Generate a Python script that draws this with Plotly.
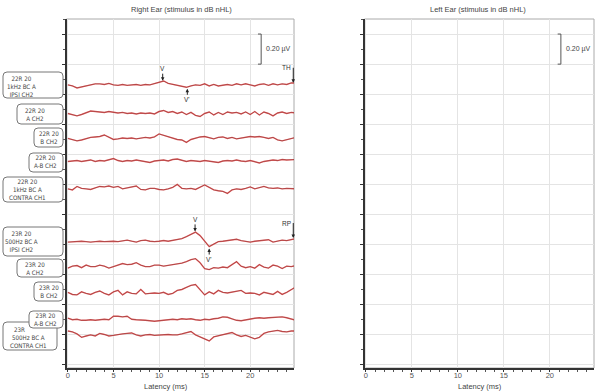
import plotly.graph_objects as go

W, H = 597, 391

# ---------------- data ----------------
latency_ms = [i * 0.5 for i in range(51)]  # sample times 0 .. 25 ms

# waveform amplitudes (nV)
r22_ipsi_1k = [0, -7, -20, -13, -7, 0, 7, 7, 3, 10,
               0, -3, 3, -3, 0, 3, -3, 3, 0, 7,
               16, 26, 10, 3, 0, -7, -16, -7, 0, -3,
               7, -7, 3, -7, 0, 3, -3, 7, 0, 7,
               0, -7, 3, 7, -3, 7, 0, 7, 3, 13, 13]
r22_a_ch2 = [0, -7, -16, -7, 7, 16, 13, 10, 7, 13,
             7, 3, 7, 0, 3, -3, 3, 0, 3, -3,
             13, 20, 7, 13, 0, 10, -7, 7, -13, -20,
             0, 10, -10, 7, -7, 10, 3, 7, -3, 10,
             -7, 13, -10, 10, 0, -16, 3, 10, 0, 7, 3]
r22_b_ch2 = [0, -7, -16, -10, 0, 7, 10, 13, 23, 7,
             -7, -3, 3, 0, 3, -3, 3, 7, 3, 10,
             30, 20, 13, 0, -7, -10, -26, -7, 3, 10,
             13, 3, -3, 7, 10, 0, 7, -3, 3, 7,
             13, 10, 13, 7, 0, 7, -10, -16, -7, 3, 7]
r22_ab_ch2 = [-3, 0, 3, -3, 0, 7, -3, 3, 0, 7,
              16, 3, -3, 3, 0, 7, 3, -3, -10, 0,
              3, 7, 0, 10, 13, 3, -3, 3, 0, -3,
              3, 0, -7, -10, 0, 3, 0, 7, 0, -3,
              3, -7, -13, -3, 3, 7, 3, 10, 7, 10, 10]
r22_contra_1k = [-3, -10, 13, 0, -3, -7, 3, 13, 10, 16,
                 7, 13, -3, 3, 10, 16, -7, -10, 0, 0,
                 -7, -10, -3, 7, 26, 0, -3, 0, -7, 10,
                 23, 7, -10, -16, -20, -33, -10, -3, -7, 0,
                 10, -3, 7, 13, 3, 0, 3, -3, 0, -3, -3]
r23_ipsi_500 = [-3, 0, 3, 3, 0, -3, 0, 3, 0, 3,
                3, 0, 7, 10, 3, -3, 7, 10, 3, 0,
                3, 7, 3, 7, 13, 20, 33, 49, 63, 40,
                7, -33, -16, 0, 3, 7, 13, 16, 7, 0,
                -3, 3, 7, 10, 13, -3, 3, 10, 7, 16, 20]
r23_a_ch2 = [-10, 3, 7, -7, 10, 0, 0, 10, 3, -10,
             0, 10, 20, 13, 16, 26, 10, 0, 0, 10,
             10, 3, 7, 13, 16, 23, 33, 46, 53, 26,
             -13, -20, -7, -10, -3, -7, 13, 33, 3, -7,
             0, -10, 13, -3, -10, 10, 3, -13, 3, 0, 7]
r23_b_ch2 = [7, -7, -10, 10, 0, -7, 7, 16, 0, -10,
             10, 20, -10, 10, 0, -3, 26, -3, 0, 3,
             0, 7, -7, 0, 20, 26, 40, 53, 59, 26,
             -10, 10, -3, 20, 7, 3, 10, 13, 20, 0,
             3, 0, -10, 7, 0, -7, 13, -7, 7, 23, 43]
r23_ab_ch2 = [7, -3, 0, -7, -7, -3, -7, -3, 0, -3,
              20, 20, 16, 20, 0, -3, -3, -7, -10, -13,
              -10, -7, -3, 0, -3, 3, 0, 3, -3, -7,
              0, -3, 3, 7, 16, 13, 3, -7, -10, -3,
              3, 7, 10, 7, 10, 13, 13, 16, 10, 0, -7]
r23_contra_500 = [26, 20, 7, -16, -7, 0, -7, 10, 3, -7,
                  -3, 3, 7, 10, 13, 0, -7, 0, 3, -3,
                  0, 3, 3, 0, 0, 7, 13, 23, 0, -13,
                  -26, -40, -13, -7, 0, 10, 16, 0, -10, -3,
                  -16, -26, -16, 10, 20, 26, 30, 23, 20, 26, 26]

waveforms = [r22_ipsi_1k, r22_a_ch2, r22_b_ch2, r22_ab_ch2, r22_contra_1k,
             r23_ipsi_500, r23_a_ch2, r23_b_ch2, r23_ab_ch2, r23_contra_500]

label_texts = ["22R 20<br>1kHz BC A<br>IPSI CH2", "22R 20<br>A CH2", "22R 20<br>B CH2",
               "22R 20<br>A-B CH2", "22R 20<br>1kHz BC A<br>CONTRA CH1",
               "23R 20<br>500Hz BC A<br>IPSI CH2", "23R 20<br>A CH2", "23R 20<br>B CH2",
               "23R 20<br>A-B CH2", "500Hz BC A<br>CONTRA CH1"]

x_ticks = [0, 5, 10, 15, 20]
scale_bar_uv = 0.20

# ---------------- layout helpers ----------------
offsets = [9.31, 8.36, 7.53, 6.78, 5.87, 4.10, 3.27, 2.38, 1.52, 1.00]
units_per_uv = 1.0 / scale_bar_uv  # one grid step = 0.20 uV

fig = go.Figure()
for wf, off in zip(waveforms, offsets):
    yv = [off + v / 1000.0 * units_per_uv for v in wf]
    fig.add_trace(go.Scatter(x=latency_ms, y=yv, mode="lines", xaxis="x", yaxis="y",
                             line=dict(color="rgba(226,78,78,0.9)", width=1.4),
                             hoverinfo="skip", showlegend=False))
    fig.add_trace(go.Scatter(x=latency_ms, y=yv, mode="lines", xaxis="x", yaxis="y",
                             line=dict(color="rgba(60,20,20,0.6)", width=0.5),
                             hoverinfo="skip", showlegend=False))
# empty trace for right panel
fig.add_trace(go.Scatter(x=[None], y=[None], xaxis="x2", yaxis="y2", showlegend=False))


def X(px):
    return px / W


def Y(py):
    return 1 - py / H


def rbox(x0, y0, x1, y1, r=4):
    return (f"M {X(x0 + r)},{Y(y0)} L {X(x1 - r)},{Y(y0)} Q {X(x1)},{Y(y0)} {X(x1)},{Y(y0 + r)} "
            f"L {X(x1)},{Y(y1 - r)} Q {X(x1)},{Y(y1)} {X(x1 - r)},{Y(y1)} "
            f"L {X(x0 + r)},{Y(y1)} Q {X(x0)},{Y(y1)} {X(x0)},{Y(y1 - r)} "
            f"L {X(x0)},{Y(y0 + r)} Q {X(x0)},{Y(y0)} {X(x0 + r)},{Y(y0)} Z")


FONT = "Liberation Sans, Arial, sans-serif"
NARROW = "Liberation Sans Narrow, DejaVu Sans Condensed, Liberation Sans, sans-serif"
TXT = "#444"


def ptext(text, px, py, size=7, color=TXT, family=FONT, **kw):
    return dict(text=text, x=X(px), y=Y(py), xref="paper", yref="paper", showarrow=False,
                xanchor="center", yanchor="middle", align="center",
                font=dict(size=size, color=color, family=family), **kw)


shapes = []
annotations = []

# label boxes (box px, text centre px)
boxes = [(3, 72, 63, 98), (17, 104, 63, 124), (34, 128, 63, 147), (29, 153, 63, 172),
         (3, 177, 63, 202), (3, 227, 63, 256), (17, 259, 63, 277), (34, 282, 63, 301),
         (29, 311, 63, 328), (3, 322, 57, 350)]
centres = [(21, 86), (35, 114.5), (48.5, 137.5), (45.5, 161), (27, 189.5),
           (21, 241.5), (35, 268), (48.5, 291.5), (45.5, 319.5), (28, 341)]
order = [0, 1, 2, 3, 4, 5, 6, 7, 9, 8]
for i in order:
    shapes.append(dict(type="path", xref="paper", yref="paper", path=rbox(*boxes[i]),
                       line=dict(color="#777", width=1), fillcolor="white", layer="above"))
annotations.append(ptext("23R", 19, 329, size=6.2, family=NARROW))
for i in range(10):
    cx, cy = centres[i]
    annotations.append(ptext(label_texts[i], cx, cy, size=6.2, family=NARROW))

# frames (gray top/right)
for xr, yr in (("x", "y"), ("x2", "y2")):
    shapes.append(dict(type="rect", xref=f"{xr} domain", yref=f"{yr} domain",
                       x0=0, x1=1, y0=0, y1=1, line=dict(color="#aaa", width=1), layer="below"))
    # scale bar (0.20 uV)
    bx = 21.2
    shapes.append(dict(type="path", xref=xr, yref=yr,
                       path=f"M {bx - 0.35},10 L {bx},10 L {bx},{10 + scale_bar_uv * units_per_uv} "
                            f"L {bx - 0.35},{10 + scale_bar_uv * units_per_uv}",
                       line=dict(color="#555", width=1)))
    annotations.append(dict(text=f"{scale_bar_uv:.2f} µV", x=bx + 0.3, y=10.5, xref=xr, yref=yr,
                            xanchor="left", yanchor="middle", showarrow=False,
                            font=dict(size=7, color=TXT, family=FONT)))

# peak markers
marks = [("V", 10.4, 9.45, 0, -12, "center"), ("V'", 13.1, 9.18, 0, 11, "center"),
         ("TH", 24.72, 9.38, 0, -15, "right"),
         ("V", 13.95, 4.44, 0, -12, "center"), ("V'", 15.5, 3.87, 0, 11, "center"),
         ("RP", 24.72, 4.22, 0, -15, "right")]
for t, mx, my, ax, ay, xa in marks:
    annotations.append(dict(text=t, x=mx, y=my, xref="x", yref="y", ax=ax, ay=ay,
                            showarrow=True, arrowhead=2, arrowsize=0.7, arrowwidth=1,
                            arrowcolor="#222", xanchor=xa,
                            font=dict(size=6.5, color="#333", family=FONT)))

# titles
annotations.append(ptext("Right Ear (stimulus in dB nHL)", 181, 10, size=7.5))
annotations.append(ptext("Left Ear (stimulus in dB nHL)", 478, 10, size=7.5))
annotations.append(ptext("Latency (ms)", 166, 386.5, size=7.5))
annotations.append(ptext("Latency (ms)", 480, 386.5, size=7.5))

xaxis_common = dict(range=[-0.15, 24.8], tickvals=x_ticks, showgrid=True, gridcolor="#e4e4e4",
                    gridwidth=1, zeroline=False, showline=True, linecolor="#333", linewidth=2,
                    ticks="outside", ticklen=2, tickcolor="#333", ticklabelstandoff=-3,
                    minor=dict(dtick=1, ticks="outside", ticklen=2, tickcolor="#555", showgrid=False),
                    tickfont=dict(size=7.5, color="#555", family=FONT), fixedrange=True)
yaxis_common = dict(range=[-0.1, 11.5], dtick=1, tick0=0, showgrid=True, gridcolor="#e4e4e4",
                    gridwidth=1, zeroline=False, showline=True, linecolor="#333", linewidth=2,
                    ticks="outside", ticklen=3, tickcolor="#333", showticklabels=False,
                    minor=dict(dtick=0.5, ticks="outside", ticklen=2, tickcolor="#555", showgrid=False),
                    fixedrange=True)

fig.update_layout(
    width=W, height=H, margin=dict(l=0, r=0, t=0, b=0),
    paper_bgcolor="white", plot_bgcolor="white", showlegend=False,
    xaxis=dict(domain=[66.5 / W, 294 / W], anchor="y", **xaxis_common),
    yaxis=dict(domain=[23 / H, 372 / H], anchor="x", **yaxis_common),
    xaxis2=dict(domain=[364.5 / W, 594 / W], anchor="y2", **xaxis_common),
    yaxis2=dict(domain=[23 / H, 372 / H], anchor="x2", **yaxis_common),
    shapes=shapes, annotations=annotations,
)

fig.write_html("out.html", config={"displayModeBar": False},
               post_script="document.body.style.margin='0px';document.body.style.padding='0px';")
